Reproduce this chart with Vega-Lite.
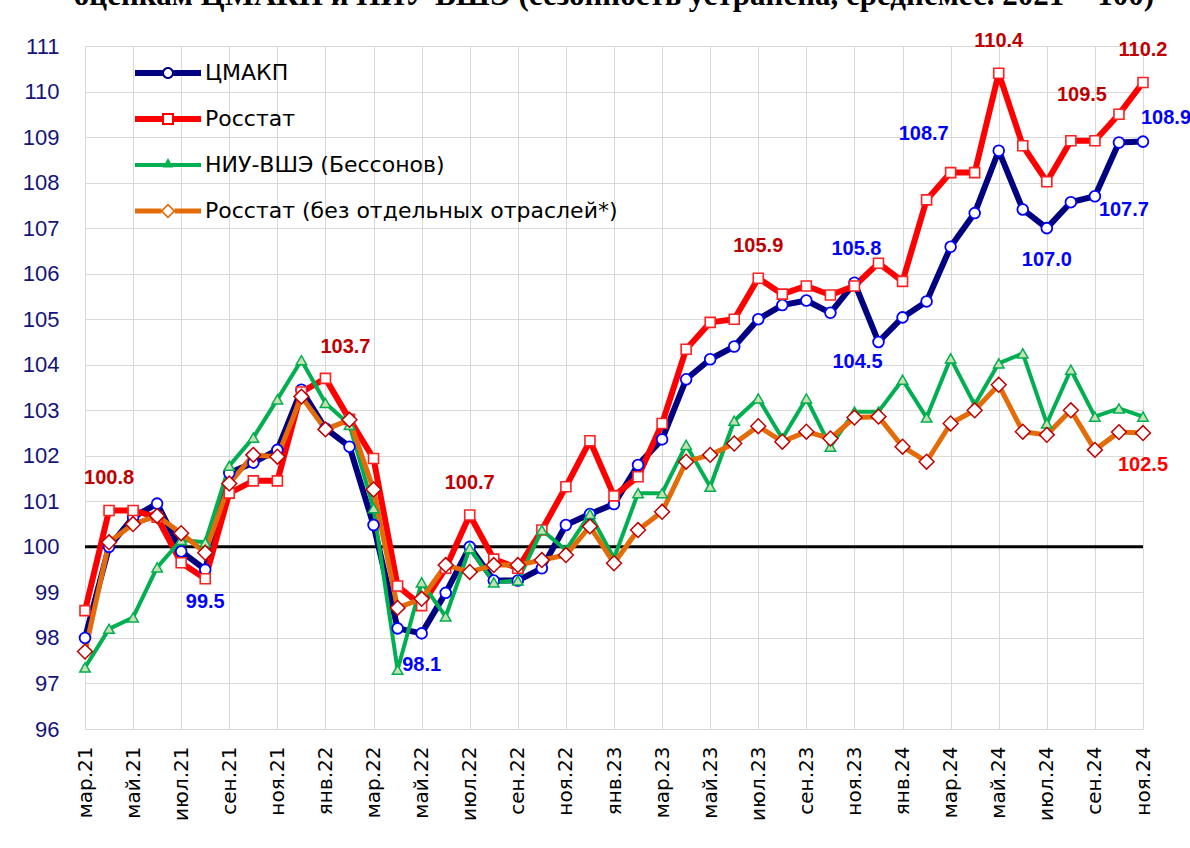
{
  "$schema": "https://vega.github.io/schema/vega-lite/v6.json",
  "width": 1058,
  "height": 683,
  "autosize": {"type": "none"},
  "padding": {"left": 85, "top": 46, "right": 47, "bottom": 119},
  "background": "white",
  "title": {
    "text": "оценкам ЦМАКП и НИУ ВШЭ (сезонность устранена, среднемес. 2021 = 100)",
    "font": "Liberation Serif",
    "fontSize": 31,
    "fontWeight": "bold",
    "color": "black",
    "anchor": "middle",
    "frame": "group",
    "baseline": "alphabetic",
    "offset": 0,
    "dy": 5
  },
  "config": {
    "view": {"stroke": null},
    "axis": {"gridColor": "#D9D9D9", "gridWidth": 1, "domain": false, "ticks": false, "title": null}
  },
  "data": {
    "values": [
      {"m": "мар.21", "a": 98.0, "b": 98.6, "c": 97.35, "d": 97.7},
      {"m": "апр.21", "a": 100.0, "b": 100.8, "c": 98.2, "d": 100.1},
      {"m": "май.21", "a": 100.65, "b": 100.8, "c": 98.45, "d": 100.5},
      {"m": "июн.21", "a": 100.95, "b": 100.65, "c": 99.55, "d": 100.68},
      {"m": "июл.21", "a": 99.9, "b": 99.65, "c": 100.15, "d": 100.3},
      {"m": "авг.21", "a": 99.5, "b": 99.3, "c": 100.1, "d": 99.87},
      {"m": "сен.21", "a": 101.62, "b": 101.18, "c": 101.78, "d": 101.39},
      {"m": "окт.21", "a": 101.85, "b": 101.45, "c": 102.4, "d": 102.02},
      {"m": "ноя.21", "a": 102.13, "b": 101.45, "c": 103.24, "d": 101.98},
      {"m": "дек.21", "a": 103.45, "b": 103.4, "c": 104.1, "d": 103.3},
      {"m": "янв.22", "a": 102.6, "b": 103.7, "c": 103.16, "d": 102.58},
      {"m": "фев.22", "a": 102.2, "b": 102.8, "c": 102.68, "d": 102.79},
      {"m": "мар.22", "a": 100.48, "b": 101.94, "c": 100.85, "d": 101.26},
      {"m": "апр.22", "a": 98.21, "b": 99.14, "c": 97.3, "d": 98.66},
      {"m": "май.22", "a": 98.1, "b": 98.71, "c": 99.22, "d": 98.86},
      {"m": "июн.22", "a": 98.99, "b": 99.53, "c": 98.47, "d": 99.6},
      {"m": "июл.22", "a": 100.0, "b": 100.7, "c": 99.97, "d": 99.45},
      {"m": "авг.22", "a": 99.26, "b": 99.73, "c": 99.22, "d": 99.6},
      {"m": "сен.22", "a": 99.26, "b": 99.53, "c": 99.26, "d": 99.6},
      {"m": "окт.22", "a": 99.53, "b": 100.37, "c": 100.37, "d": 99.71},
      {"m": "ноя.22", "a": 100.48, "b": 101.32, "c": 99.93, "d": 99.82},
      {"m": "дек.22", "a": 100.72, "b": 102.33, "c": 100.72, "d": 100.45},
      {"m": "янв.23", "a": 100.94, "b": 101.12, "c": 99.75, "d": 99.64},
      {"m": "фев.23", "a": 101.8, "b": 101.54, "c": 101.18, "d": 100.37},
      {"m": "мар.23", "a": 102.36, "b": 102.71, "c": 101.18, "d": 100.77},
      {"m": "апр.23", "a": 103.68, "b": 104.34, "c": 102.24, "d": 101.87},
      {"m": "май.23", "a": 104.12, "b": 104.93, "c": 101.32, "d": 102.02},
      {"m": "июн.23", "a": 104.4, "b": 105.0, "c": 102.77, "d": 102.27},
      {"m": "июл.23", "a": 105.0, "b": 105.9, "c": 103.26, "d": 102.65},
      {"m": "авг.23", "a": 105.31, "b": 105.55, "c": 102.38, "d": 102.31},
      {"m": "сен.23", "a": 105.41, "b": 105.73, "c": 103.26, "d": 102.53},
      {"m": "окт.23", "a": 105.14, "b": 105.53, "c": 102.2, "d": 102.38},
      {"m": "ноя.23", "a": 105.8, "b": 105.73, "c": 102.97, "d": 102.84},
      {"m": "дек.23", "a": 104.5, "b": 106.23, "c": 102.97, "d": 102.86},
      {"m": "янв.24", "a": 105.04, "b": 105.83, "c": 103.67, "d": 102.2},
      {"m": "фев.24", "a": 105.39, "b": 107.62, "c": 102.84, "d": 101.87},
      {"m": "мар.24", "a": 106.59, "b": 108.22, "c": 104.14, "d": 102.71},
      {"m": "апр.24", "a": 107.33, "b": 108.22, "c": 103.12, "d": 103.0},
      {"m": "май.24", "a": 108.7, "b": 110.4, "c": 104.03, "d": 103.56},
      {"m": "июн.24", "a": 107.41, "b": 108.81, "c": 104.25, "d": 102.53},
      {"m": "июл.24", "a": 107.0, "b": 108.02, "c": 102.71, "d": 102.46},
      {"m": "авг.24", "a": 107.57, "b": 108.92, "c": 103.89, "d": 103.0},
      {"m": "сен.24", "a": 107.7, "b": 108.92, "c": 102.86, "d": 102.13},
      {"m": "окт.24", "a": 108.88, "b": 109.5, "c": 103.04, "d": 102.52},
      {"m": "ноя.24", "a": 108.9, "b": 110.2, "c": 102.86, "d": 102.5}
    ]
  },
  "transform": [{"fold": ["a", "b", "c", "d"], "as": ["key", "v"]}],
  "layer": [
    {
      "data": {"values": [{"level": 100}]},
      "mark": {"type": "rule", "color": "black", "strokeWidth": 3},
      "encoding": {
        "y": {"field": "level", "type": "quantitative", "scale": {"domain": [96, 111], "nice": false, "zero": false}}
      }
    },
    {
      "encoding": {
        "x": {
          "field": "m",
          "type": "ordinal",
          "sort": null,
          "scale": {
            "type": "point",
            "padding": 0,
            "domain": ["мар.21","апр.21","май.21","июн.21","июл.21","авг.21","сен.21","окт.21","ноя.21","дек.21","янв.22","фев.22","мар.22","апр.22","май.22","июн.22","июл.22","авг.22","сен.22","окт.22","ноя.22","дек.22","янв.23","фев.23","мар.23","апр.23","май.23","июн.23","июл.23","авг.23","сен.23","окт.23","ноя.23","дек.23","янв.24","фев.24","мар.24","апр.24","май.24","июн.24","июл.24","авг.24","сен.24","окт.24","ноя.24"]
          },
          "axis": {
            "values": ["мар.21","май.21","июл.21","сен.21","ноя.21","янв.22","мар.22","май.22","июл.22","сен.22","ноя.22","янв.23","мар.23","май.23","июл.23","сен.23","ноя.23","янв.24","мар.24","май.24","июл.24","сен.24","ноя.24"],
            "labelAngle": -90,
            "labelFont": "DejaVu Sans",
            "labelFontSize": 20,
            "labelColor": "black",
            "labelPadding": 17,
            "grid": true
          }
        },
        "y": {
          "field": "v",
          "type": "quantitative",
          "scale": {"domain": [96, 111], "nice": false, "zero": false},
          "axis": {
            "values": [96,97,98,99,100,101,102,103,104,105,106,107,108,109,110,111],
            "labelFont": "Liberation Sans",
            "labelFontSize": 22,
            "labelColor": "#14147A",
            "labelPadding": 26,
            "grid": true
          }
        }
      },
      "layer": [
        {
          "transform": [{"filter": "datum.key==='a' || datum.key==='b'"}],
          "mark": {"type": "line", "strokeWidth": 6, "strokeCap": "round", "strokeJoin": "round"},
          "encoding": {
            "color": {
              "field": "key",
              "type": "nominal",
              "scale": {"domain": ["a", "b", "c", "d"], "range": ["#000080", "#FF0000", "#00B050", "#E36C09"]},
              "legend": {
                "orient": "none",
                "legendX": 63,
                "legendY": 7,
                "title": null,
                "direction": "vertical",
                "padding": 0,
                "symbolSize": 1600,
                "symbolStrokeWidth": 0,
                "labelFont": "DejaVu Sans",
                "labelFontSize": 22,
                "labelColor": "black",
                "labelOffset": 17,
                "labelLimit": 600,
                "rowPadding": 15,
                "labelExpr": "['ЦМАКП','Росстат','НИУ-ВШЭ (Бессонов)','Росстат (без отдельных отраслей*)'][indexof(['a','b','c','d'], datum.value)]",
                "encode": {
                  "symbols": {
                    "update": {
                      "shape": {"signal": "datum.value==='a' ? 'M-1.65,-0.15H-0.28V0.15H-1.65Z M0.28,-0.15H1.65V0.15H0.28Z M-0.3,0A0.3,0.3 0 1,1 0.3,0A0.3,0.3 0 1,1 -0.3,0Z M-0.2,0A0.2,0.2 0 1,0 0.2,0A0.2,0.2 0 1,0 -0.2,0Z' : datum.value==='b' ? 'M-1.65,-0.15H-0.3V0.15H-1.65Z M0.3,-0.15H1.65V0.15H0.3Z M-0.3,-0.3H0.3V0.3H-0.3Z M-0.2,-0.2V0.2H0.2V-0.2Z' : datum.value==='c' ? 'M-1.65,-0.1H1.65V0.1H-1.65Z M0,-0.35L0.26,0.12H-0.26Z' : 'M-1.65,-0.13H-0.33V0.13H-1.65Z M0.33,-0.13H1.65V0.13H0.33Z M0,-0.38L0.38,0L0,0.38L-0.38,0Z M0,-0.26L-0.26,0L0,0.26L0.26,0Z'"},
                      "fill": {"signal": "scale('color', datum.value)"},
                      "strokeWidth": {"value": 0},
                      "opacity": {"value": 1}
                    }
                  }
                }
              }
            }
          }
        },
        {
          "transform": [{"filter": "datum.key==='c'"}],
          "mark": {"type": "line", "strokeWidth": 4, "color": "#00B050", "strokeCap": "round", "strokeJoin": "round"}
        },
        {
          "transform": [{"filter": "datum.key==='d'"}],
          "mark": {"type": "line", "strokeWidth": 5, "color": "#E36C09", "strokeCap": "round", "strokeJoin": "round"}
        },
        {
          "transform": [{"filter": "datum.key==='a'"}],
          "mark": {"type": "point", "shape": "circle", "size": 115, "filled": true, "fill": "#FFFFFF", "stroke": "#0000FF", "strokeWidth": 1.8, "opacity": 1}
        },
        {
          "transform": [{"filter": "datum.key==='b'"}],
          "mark": {"type": "point", "shape": "square", "size": 100, "filled": true, "fill": "#FFFFFF", "stroke": "#FF2020", "strokeWidth": 1.6, "opacity": 1}
        },
        {
          "transform": [{"filter": "datum.key==='c'"}],
          "mark": {"type": "point", "shape": "triangle-up", "size": 110, "filled": true, "fill": "#C6E0B4", "stroke": "#00B050", "strokeWidth": 1.5, "opacity": 1}
        },
        {
          "transform": [{"filter": "datum.key==='d'"}],
          "mark": {"type": "point", "shape": "diamond", "size": 220, "filled": true, "fill": "#FFFFFF", "stroke": "#C00000", "strokeWidth": 1.5, "opacity": 1}
        },
        {
          "transform": [{"filter": "datum.key==='b' && indexof(['апр.21','июл.22','июл.23','май.24','ноя.24'], datum.m) >= 0"}],
          "mark": {"type": "text", "font": "Liberation Sans Narrow, Liberation Sans", "fontWeight": "bold", "fontSize": 20, "color": "#C00000", "dy": -32, "baseline": "middle", "align": "center"},
          "encoding": {"text": {"field": "v", "type": "quantitative", "format": ".1f"}}
        },
        {
          "transform": [{"filter": "datum.key==='a' && datum.m==='ноя.23'"}],
          "mark": {"type": "text", "font": "Liberation Sans Narrow, Liberation Sans", "fontWeight": "bold", "fontSize": 20, "color": "#0000FF", "dx": 2, "dy": -34, "baseline": "middle", "align": "center"},
          "encoding": {"text": {"field": "v", "type": "quantitative", "format": ".1f"}}
        },
        {
          "transform": [{"filter": "datum.key==='a' && indexof(['авг.21','май.22','июл.24'], datum.m) >= 0"}],
          "mark": {"type": "text", "font": "Liberation Sans Narrow, Liberation Sans", "fontWeight": "bold", "fontSize": 20, "color": "#0000FF", "dy": 32, "baseline": "middle", "align": "center"},
          "encoding": {"text": {"field": "v", "type": "quantitative", "format": ".1f"}}
        },
        {
          "transform": [{"filter": "datum.key==='d' && datum.m==='ноя.24'"}],
          "mark": {"type": "text", "font": "Liberation Sans Narrow, Liberation Sans", "fontWeight": "bold", "fontSize": 20, "color": "#FF0000", "dy": 32, "baseline": "middle", "align": "center"},
          "encoding": {"text": {"field": "v", "type": "quantitative", "format": ".1f"}}
        },
        {
          "transform": [{"filter": "datum.key==='b' && datum.m==='янв.22'"}],
          "mark": {"type": "text", "font": "Liberation Sans Narrow, Liberation Sans", "fontWeight": "bold", "fontSize": 20, "color": "#C00000", "dx": 20, "dy": -31, "baseline": "middle", "align": "center"},
          "encoding": {"text": {"field": "v", "type": "quantitative", "format": ".1f"}}
        },
        {
          "transform": [{"filter": "datum.key==='a' && datum.m==='дек.23'"}],
          "mark": {"type": "text", "font": "Liberation Sans Narrow, Liberation Sans", "fontWeight": "bold", "fontSize": 20, "color": "#0000FF", "dx": -21, "dy": 20, "baseline": "middle", "align": "center"},
          "encoding": {"text": {"field": "v", "type": "quantitative", "format": ".1f"}}
        },
        {
          "transform": [{"filter": "datum.key==='a' && datum.m==='май.24'"}],
          "mark": {"type": "text", "font": "Liberation Sans Narrow, Liberation Sans", "fontWeight": "bold", "fontSize": 20, "color": "#0000FF", "dx": -50, "dy": -17, "baseline": "middle", "align": "right"},
          "encoding": {"text": {"field": "v", "type": "quantitative", "format": ".1f"}}
        },
        {
          "transform": [{"filter": "datum.key==='b' && datum.m==='окт.24'"}],
          "mark": {"type": "text", "font": "Liberation Sans Narrow, Liberation Sans", "fontWeight": "bold", "fontSize": 20, "color": "#C00000", "dx": -37, "dy": -19, "baseline": "middle", "align": "center"},
          "encoding": {"text": {"field": "v", "type": "quantitative", "format": ".1f"}}
        },
        {
          "transform": [{"filter": "datum.key==='a' && datum.m==='ноя.24'"}],
          "mark": {"type": "text", "font": "Liberation Sans Narrow, Liberation Sans", "fontWeight": "bold", "fontSize": 20, "color": "#0000FF", "dx": -2, "dy": -24, "baseline": "middle", "align": "left"},
          "encoding": {"text": {"field": "v", "type": "quantitative", "format": ".1f"}}
        },
        {
          "transform": [{"filter": "datum.key==='a' && datum.m==='сен.24'"}],
          "mark": {"type": "text", "font": "Liberation Sans Narrow, Liberation Sans", "fontWeight": "bold", "fontSize": 20, "color": "#0000FF", "dx": 29, "dy": 14, "baseline": "middle", "align": "center"},
          "encoding": {"text": {"field": "v", "type": "quantitative", "format": ".1f"}}
        }
      ]
    }
  ]
}
